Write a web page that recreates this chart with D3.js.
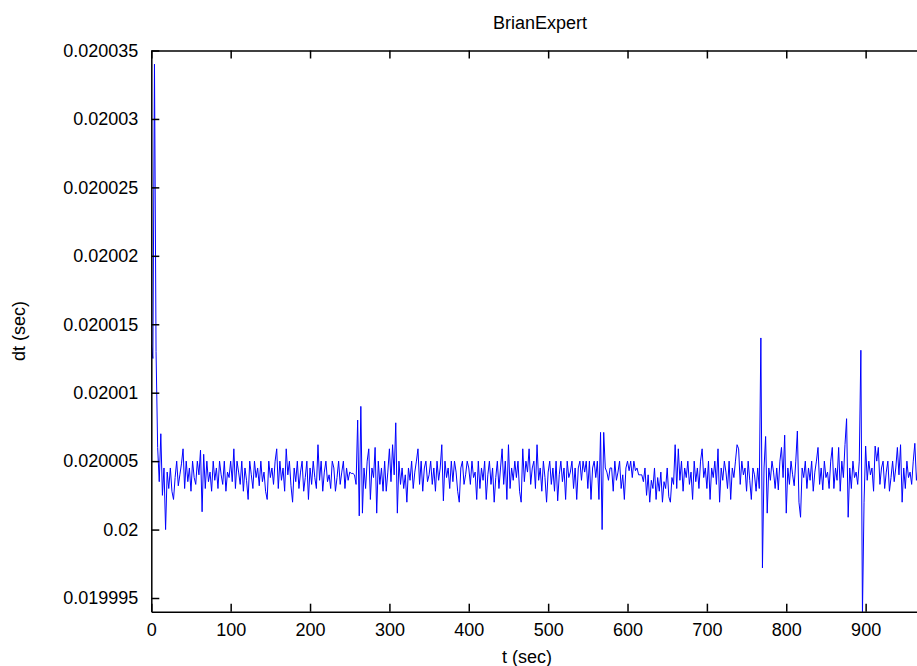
<!DOCTYPE html>
<html>
<head>
<meta charset="utf-8">
<script src="https://cdn.jsdelivr.net/npm/d3@7/dist/d3.min.js"></script>
<style>
  html, body { margin: 0; padding: 0; background: #fff; overflow: hidden; }
  svg { display: block; font-family: "Liberation Sans", Arial, Helvetica, sans-serif; }
</style>
</head>
<body>
<svg id="chart" width="917" height="666"></svg>
<script>
// Frame period measurements (seconds), one sample every 2 s starting at t = 0
const sampleStep = 2;
const dtSec = [
  0.0200135, 0.0200125, 0.020034, 0.020013, 0.020006, 0.0200035, 0.020007, 0.0200025, 0.0200045, 0.02,
  0.0200042, 0.020003, 0.0200045, 0.0200028, 0.0200022, 0.0200038, 0.020005, 0.0200032, 0.020004, 0.0200048,
  0.0200059, 0.020003, 0.020005, 0.0200035, 0.0200045, 0.0200028, 0.020005, 0.0200038, 0.0200033, 0.020005,
  0.020004, 0.0200058, 0.0200013, 0.0200055, 0.020003, 0.020005, 0.0200035, 0.0200042, 0.0200028, 0.020005,
  0.0200036, 0.0200045, 0.020003, 0.020005, 0.020004, 0.0200033, 0.020005, 0.0200028, 0.0200042, 0.0200038,
  0.020005, 0.0200035, 0.0200059, 0.020003, 0.020005, 0.0200042, 0.0200033, 0.020005, 0.0200028, 0.0200045,
  0.0200036, 0.0200022, 0.020005, 0.020004, 0.020003, 0.020005, 0.0200038, 0.0200045, 0.0200032, 0.020005,
  0.0200035, 0.0200042, 0.0200028, 0.0200022, 0.020005, 0.0200038, 0.0200045, 0.0200033, 0.020005, 0.0200059,
  0.020003, 0.020005, 0.0200036, 0.0200045, 0.0200028, 0.0200059, 0.020004, 0.020005, 0.0200032, 0.020002,
  0.0200045, 0.0200035, 0.020005, 0.020003, 0.0200042, 0.020005, 0.0200028, 0.0200038, 0.020005, 0.0200022,
  0.0200045, 0.0200033, 0.020005, 0.0200038, 0.020003, 0.0200062, 0.0200036, 0.020005, 0.0200028, 0.0200042,
  0.020005, 0.0200035, 0.020004, 0.020003, 0.020005, 0.0200045, 0.0200028, 0.0200038, 0.020005, 0.0200033,
  0.0200042, 0.020005, 0.020003, 0.0200045, 0.0200036, 0.0200042, 0.0200041, 0.0200041, 0.020004, 0.0200033,
  0.020008, 0.020001, 0.020009, 0.0200012, 0.0200045, 0.020003, 0.020005, 0.0200059, 0.0200022, 0.0200045,
  0.0200038, 0.020006, 0.0200012, 0.020005, 0.0200033, 0.0200045, 0.0200028, 0.020005, 0.0200028, 0.0200042,
  0.0200059, 0.0200035, 0.0200062, 0.020004, 0.0200078, 0.0200012, 0.020005, 0.0200033, 0.0200045, 0.020003,
  0.020004, 0.020002, 0.0200045, 0.0200036, 0.020005, 0.020003, 0.0200042, 0.020005, 0.0200059, 0.0200033,
  0.020005, 0.0200028, 0.0200045, 0.020005, 0.0200035, 0.020004, 0.020005, 0.0200033, 0.0200045, 0.0200028,
  0.020005, 0.0200036, 0.0200045, 0.0200062, 0.0200021, 0.020005, 0.0200038, 0.0200045, 0.020003, 0.020005,
  0.0200035, 0.020005, 0.0200042, 0.0200028, 0.020002, 0.0200045, 0.020005, 0.0200033, 0.020004, 0.020005,
  0.0200045, 0.0200033, 0.020005, 0.0200038, 0.0200042, 0.0200022, 0.020005, 0.020003, 0.0200045, 0.0200036,
  0.020005, 0.0200022, 0.020004, 0.020005, 0.0200033, 0.0200045, 0.020002, 0.0200038, 0.020005, 0.020003,
  0.0200045, 0.0200059, 0.0200033, 0.020005, 0.0200022, 0.0200062, 0.020003, 0.0200045, 0.0200036, 0.020005,
  0.0200038, 0.020005, 0.0200028, 0.020002, 0.0200059, 0.0200035, 0.020005, 0.0200042, 0.0200059, 0.0200033,
  0.0200045, 0.020005, 0.020003, 0.0200062, 0.0200036, 0.0200045, 0.0200028, 0.020005, 0.0200038, 0.020002,
  0.0200042, 0.020005, 0.0200033, 0.0200045, 0.0200028, 0.020005, 0.0200021, 0.020004, 0.020005, 0.0200035,
  0.0200045, 0.0200022, 0.020005, 0.0200038, 0.0200042, 0.020005, 0.020003, 0.0200045, 0.0200022, 0.0200045,
  0.020005, 0.0200036, 0.020005, 0.0200042, 0.020005, 0.020003, 0.020005, 0.0200022, 0.0200045, 0.020005,
  0.0200038, 0.020005, 0.0200022, 0.0200071, 0.02, 0.0200071, 0.0200045, 0.0200042, 0.0200036, 0.0200045,
  0.0200045, 0.0200028, 0.020005, 0.0200036, 0.0200042, 0.020005, 0.020003, 0.020004, 0.0200022, 0.0200045,
  0.020005, 0.0200043, 0.020005, 0.0200038, 0.020005, 0.0200043, 0.0200045, 0.020004, 0.020004, 0.020004,
  0.0200035, 0.0200045, 0.0200025, 0.020004, 0.020002, 0.0200036, 0.020003, 0.0200045, 0.0200022, 0.0200038,
  0.0200028, 0.0200042, 0.020002, 0.0200035, 0.020003, 0.0200045, 0.0200024, 0.020002, 0.0200038, 0.0200033,
  0.0200062, 0.020003, 0.0200059, 0.0200036, 0.020005, 0.0200028, 0.0200045, 0.0200038, 0.020005, 0.0200033,
  0.0200042, 0.0200022, 0.020005, 0.0200035, 0.0200045, 0.020003, 0.020005, 0.0200059, 0.0200038, 0.0200045,
  0.020003, 0.020005, 0.0200022, 0.0200045, 0.0200038, 0.020005, 0.0200033, 0.0200059, 0.020002, 0.0200045,
  0.0200036, 0.020005, 0.0200042, 0.020003, 0.020005, 0.0200022, 0.0200045, 0.0200038, 0.020005, 0.0200062,
  0.0200059, 0.0200033, 0.020005, 0.020004, 0.0200045, 0.0200028, 0.020005, 0.0200036, 0.0200022, 0.0200045,
  0.020004, 0.0200028, 0.0200045, 0.020003, 0.020014, 0.0199972, 0.0200045, 0.0200068, 0.0200012, 0.0200045,
  0.0200036, 0.020005, 0.0200042, 0.020003, 0.0200045, 0.0200029, 0.020005, 0.020006, 0.0200038, 0.0200069,
  0.0200012, 0.0200045, 0.0200033, 0.020005, 0.020004, 0.0200032, 0.020005, 0.0200072, 0.020002, 0.0200009,
  0.0200045, 0.0200038, 0.020005, 0.020003, 0.0200045, 0.0200036, 0.020005, 0.0200028, 0.0200042, 0.020005,
  0.020006, 0.0200033, 0.0200045, 0.0200029, 0.020005, 0.0200038, 0.0200042, 0.020003, 0.020005, 0.020006,
  0.020003, 0.0200045, 0.0200036, 0.020006, 0.0200028, 0.020005, 0.0200038, 0.0200062, 0.0200081, 0.0200009,
  0.0200045, 0.020003, 0.020005, 0.0200038, 0.0200042, 0.0200033, 0.020005, 0.0200131, 0.0199938, 0.020002,
  0.0200061, 0.0200036, 0.020005, 0.020004, 0.0200045, 0.0200028, 0.0200061, 0.020005, 0.020006, 0.0200033,
  0.0200045, 0.020005, 0.020003, 0.0200042, 0.020005, 0.0200028, 0.0200038, 0.020005, 0.0200035, 0.0200045,
  0.020006, 0.020004, 0.0200062, 0.020002, 0.0200045, 0.020003, 0.020005, 0.0200038, 0.0200042, 0.0200033,
  0.020005, 0.0200063, 0.0200036, 0.0200045, 0.020003
];

// Axis ticks and labels
const xTicks = [0, 100, 200, 300, 400, 500, 600, 700, 800, 900];
const yTickLabels = ["0.019995", "0.02", "0.020005", "0.02001", "0.020015",
                     "0.02002", "0.020025", "0.02003", "0.020035"];
const xDomain = [0, 1000];
const yDomain = [0.019994, 0.020035];

const titleText = "BrianExpert";
const xLabelText = "t (sec)";
const yLabelText = "dt (sec)";

const series = dtSec.map((v, i) => ({ t: i * sampleStep, dt: v }));

const svg = d3.select("#chart");
const plot = { left: 151.3, right: 945, top: 50.5, bottom: 611.7 };

const x = d3.scaleLinear().domain(xDomain).range([plot.left, plot.right]);
const y = d3.scaleLinear().domain(yDomain).range([plot.bottom, plot.top]);

svg.append("defs").append("clipPath").attr("id", "plotClip")
  .append("rect")
  .attr("x", plot.left).attr("y", plot.top)
  .attr("width", plot.right - plot.left).attr("height", plot.bottom - plot.top);

// Data trace
svg.append("path")
  .datum(series)
  .attr("clip-path", "url(#plotClip)")
  .attr("fill", "none")
  .attr("stroke", "#0000ff")
  .attr("stroke-width", 1)
  .attr("stroke-linejoin", "round")
  .attr("d", d3.line().x(d => x(d.t)).y(d => y(d.dt)));

const fontSize = 18;

// Bottom axis with inward ticks
const gx = svg.append("g")
  .attr("transform", `translate(0,${plot.bottom})`)
  .call(d3.axisBottom(x).tickValues(xTicks).tickFormat(d3.format("d"))
    .tickSizeInner(-8).tickSizeOuter(0).tickPadding(11.5));

// Top mirror ticks
const gxTop = svg.append("g")
  .attr("transform", `translate(0,${plot.top})`)
  .call(d3.axisTop(x).tickValues(xTicks).tickFormat("")
    .tickSizeInner(-8).tickSizeOuter(0));

// Left axis with inward ticks
const yTickValues = yTickLabels.map(Number);
const gy = svg.append("g")
  .attr("transform", `translate(${plot.left},0)`)
  .call(d3.axisLeft(y).tickValues(yTickValues)
    .tickFormat((d, i) => yTickLabels[i])
    .tickSizeInner(-8).tickSizeOuter(0).tickPadding(13));

[gx, gxTop, gy].forEach(g => {
  g.select(".domain").attr("stroke", "#000").attr("stroke-width", 1.5);
  g.selectAll(".tick line").attr("stroke", "#000").attr("stroke-width", 1.5);
  g.selectAll(".tick text")
    .attr("fill", "#000")
    .style("font-size", fontSize + "px")
    .style("font-family", "'Liberation Sans', Arial, Helvetica, sans-serif");
});

// Title and axis labels
svg.append("text")
  .attr("x", 540).attr("y", 29)
  .attr("text-anchor", "middle")
  .style("font-size", fontSize + "px")
  .text(titleText);

svg.append("text")
  .attr("x", 527).attr("y", 663)
  .attr("text-anchor", "middle")
  .style("font-size", fontSize + "px")
  .text(xLabelText);

svg.append("text")
  .attr("transform", `translate(25,${(plot.top + plot.bottom) / 2}) rotate(-90)`)
  .attr("text-anchor", "middle")
  .style("font-size", fontSize + "px")
  .text(yLabelText);
</script>
</body>
</html>
